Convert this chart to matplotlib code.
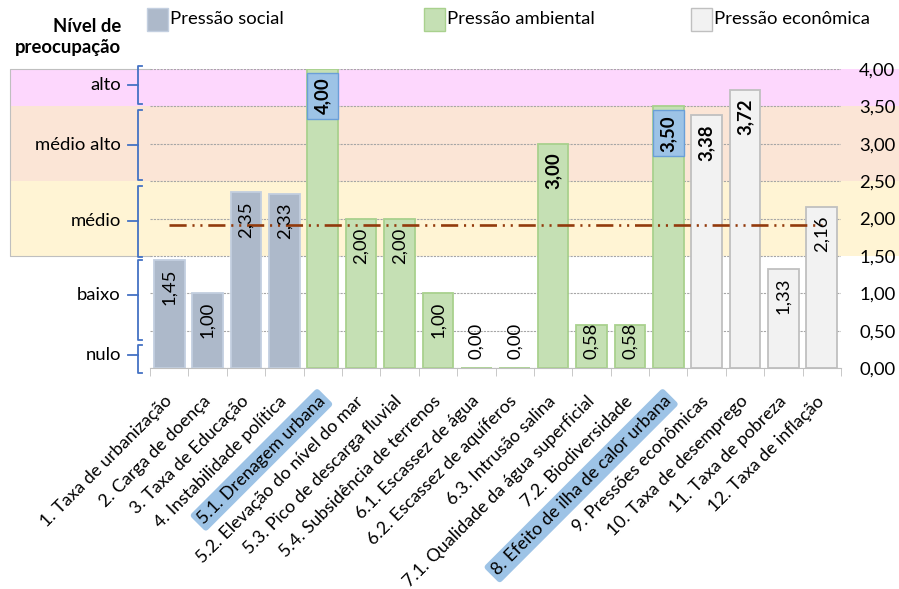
"""Concern level per urban pressure indicator, grouped by pressure type."""

import matplotlib

matplotlib.use("Agg")
import matplotlib.pyplot as plt
import numpy as np
from matplotlib import transforms
from matplotlib.lines import Line2D
from matplotlib.patches import Rectangle
from matplotlib.ticker import FuncFormatter

plt.rcParams["font.family"] = ["Lato", "DejaVu Sans"]

# Indicators and their concern scores (0 = nulo ... 4 = alto).
categories = [
    "1. Taxa de urbanização",
    "2. Carga de doença",
    "3. Taxa de Educação",
    "4. Instabilidade política",
    "5.1. Drenagem urbana",
    "5.2. Elevação do nível do mar",
    "5.3. Pico de descarga fluvial",
    "5.4. Subsidência de terrenos",
    "6.1. Escassez de água",
    "6.2. Escassez de aquíferos",
    "6.3. Intrusão salina",
    "7.1. Qualidade da água superficial",
    "7.2. Biodiversidade",
    "8. Efeito de ilha de calor urbana",
    "9. Pressões econômicas",
    "10. Taxa de desemprego",
    "11. Taxa de pobreza",
    "12. Taxa de inflação",
]
values = [1.45, 1.00, 2.35, 2.33, 4.00, 2.00, 2.00, 1.00, 0.00, 0.00,
          3.00, 0.58, 0.58, 3.50, 3.38, 3.72, 1.33, 2.16]
groups = ["social"] * 4 + ["ambiental"] * 10 + ["economica"] * 4

highlighted = [4, 13]          # indicators with a highlighted label and score box
bold_scores = [4, 10, 13, 14, 15]

group_names = ["social", "ambiental", "economica"]
group_labels = ["Pressão social", "Pressão ambiental", "Pressão econômica"]
group_fill = {"social": "#ADB9CA", "ambiental": "#C5E0B4", "economica": "#F2F2F2"}
group_edge = {"social": "#C3CFE0", "ambiental": "#A9D18E", "economica": "#C0C0C0"}

# Concern levels on the left scale: label, bracket span, label position.
level_labels = ["alto", "médio alto", "médio", "baixo", "nulo"]
level_spans = [(3.53, 4.04), (2.52, 3.45), (1.48, 2.43), (0.37, 1.44), (-0.07, 0.31)]
level_marks = [3.78, 2.98, 1.96, 0.98, 0.17]

# Shaded bands behind the chart.
band_ranges = [(3.5, 4.0), (2.5, 3.5), (1.5, 2.5)]
band_colors = ["#FDD7FD", "#FBE5D6", "#FFF4D4"]

W, H = 899, 589
FS = 13.3
FS_X = 12.8

fig = plt.figure(figsize=(W / 100, H / 100), dpi=100)
ax = fig.add_axes([150 / W, 221 / H, 691 / W, 299 / H])
ax.set_facecolor("none")

n = len(values)
x = np.arange(n)
ax.set_xlim(-0.5, n - 0.5)
ax.set_ylim(0, 4)
ppu = 299 / 4  # pixels per score unit

bt = transforms.blended_transform_factory(fig.transFigure, ax.transData)

for (lo, hi), col in zip(band_ranges, band_colors):
    fig.patches.append(Rectangle((10 / W, lo), 1 - 10 / W, hi - lo, transform=bt,
                                 facecolor=col, edgecolor="none", zorder=-2))
# thin frame round the band block, left of the plot only
ax.add_line(Line2D([150 / W, 10 / W, 10 / W, 150 / W], [4.0, 4.0, 1.5, 1.5],
                   transform=bt, color="#BFBFBF", linewidth=0.8, clip_on=False,
                   zorder=0))

ax.yaxis.grid(True, linestyle=(0, (2, 1)), color="#A6A6A6", linewidth=0.8)
ax.set_axisbelow(True)

ax.bar(x, values, width=0.8,
       color=[group_fill[g] for g in groups],
       edgecolor=[group_edge[g] for g in groups],
       linewidth=1.3, zorder=2)

mean = np.mean(values)
ax.plot([x[0], x[-1]], [mean, mean], color="#923A0C", linewidth=1.9,
        linestyle=(0, (6.5, 2.2, 0.8, 2.2, 0.8, 2.2)), zorder=3)

for i, v in enumerate(values):
    center = max(v * ppu - 27, 27) / ppu
    if i in highlighted:
        ax.add_patch(Rectangle((i - 0.4, v - 50 / ppu), 0.8, 46 / ppu,
                               facecolor="#9DC3E6", edgecolor="#6A9FD8",
                               linewidth=1, zorder=4))
    ax.text(i, center, f"{v:.2f}".replace(".", ","), rotation=90,
            ha="center", va="center", fontsize=FS,
            fontweight="bold" if i in bold_scores else "normal", zorder=5)

ax.set_xticks(x)
ax.set_xticklabels(categories, rotation=45, ha="right", va="center",
                   rotation_mode="anchor", fontsize=FS_X)
ax.set_xticks(np.arange(-0.5, n, 1), minor=True)
ax.tick_params(axis="x", which="major", length=0, pad=22)
ax.tick_params(axis="x", which="minor", length=6, color="#BFBFBF")
for i, lbl in enumerate(ax.get_xticklabels()):
    if i in highlighted:
        lbl.set_bbox(dict(boxstyle="round,pad=0.2", facecolor="#9DC3E6",
                          edgecolor="none"))

ax.yaxis.tick_right()
ax.set_yticks(np.arange(0, 4.01, 0.5))
ax.yaxis.set_major_formatter(FuncFormatter(lambda v, _: f"{v:.2f}".replace(".", ",")))
ax.tick_params(axis="y", length=0, pad=13, labelsize=FS)

for side in ("top", "left", "right"):
    ax.spines[side].set_visible(False)
ax.spines["bottom"].set_color("#BFBFBF")

# Left concern scale with brackets.
for label, (lo, hi), mark in zip(level_labels, level_spans, level_marks):
    ax.text(121 / W, mark, label, transform=bt, ha="right", va="center",
            fontsize=FS)
    ax.add_line(Line2D([142 / W, 138 / W, 138 / W, 142 / W], [hi, hi, lo, lo],
                       transform=bt, color="#4472C4", linewidth=1.3, clip_on=False))
    ax.add_line(Line2D([128 / W, 138 / W], [mark, mark], transform=bt,
                       color="#4472C4", linewidth=1.3, clip_on=False))

fig.text(121 / W, 1 - 26 / H, "Nível de", ha="right", va="center",
         fontsize=FS, fontweight="bold")
fig.text(121 / W, 1 - 48 / H, "preocupação", ha="right", va="center",
         fontsize=FS, fontweight="bold")

# Legend.
legend_x = [147, 424, 691]
for gx, g, lab in zip(legend_x, group_names, group_labels):
    fig.patches.append(Rectangle((gx / W, 1 - 31 / H), 21 / W, 23 / H,
                                 transform=fig.transFigure, facecolor=group_fill[g],
                                 edgecolor=group_edge[g], linewidth=1))
    fig.text((gx + 23) / W, 1 - 19 / H, lab, ha="left", va="center", fontsize=FS)

fig.savefig("out.png", dpi=100)
plt.close(fig)
